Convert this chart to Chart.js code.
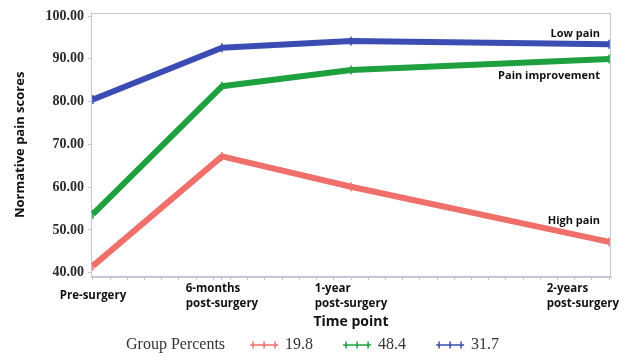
<!DOCTYPE html>
<html><head><meta charset="utf-8">
<script src="https://cdn.jsdelivr.net/npm/chart.js@4.4.1/dist/chart.umd.min.js"></script>
<style>html,body{margin:0;padding:0;background:#fff;} canvas{display:block;}</style>
</head><body>
<canvas id="c" width="631" height="357"></canvas>
<script>
// ---- data ----
const months = [0, 6, 12, 24];
const timeLabels = [['Pre-surgery'], ['6-months', 'post-surgery'], ['1-year', 'post-surgery'], ['2-years', 'post-surgery']];
const seriesNames = ['High pain', 'Pain improvement', 'Low pain'];
const groupPercents = ['19.8', '48.4', '31.7'];
const highPain = [41.6, 67.2, 60.1, 47.2];
const painImprovement = [53.7, 83.6, 87.4, 90.0];
const lowPain = [80.5, 92.6, 94.2, 93.4];
const yTicks = [40, 50, 60, 70, 80, 90, 100];
const xMinorStep = 0.8;

// ---- style ----
const colors = ['#ef6f6a', '#1fa03f', '#3b4db2'];
const frameColor = '#c3c8d4';
const seriesValues = [highPain, painImprovement, lowPain];

const datasets = seriesValues.map((vals, i) => ({
  label: groupPercents[i],
  data: months.map((m, j) => ({x: m, y: vals[j]})),
  borderColor: colors[i],
  backgroundColor: colors[i],
  borderWidth: 6,
  borderJoinStyle: 'round',
  tension: 0,
  pointStyle: 'line',
  rotation: 90,
  radius: 4.5,
  pointBorderWidth: 1.5,
  pointBorderColor: colors[i],
  clip: false
}));

const framePlugin = {
  id: 'frame',
  beforeDatasetsDraw(chart) {
    const {ctx, chartArea: a} = chart;
    ctx.save();
    ctx.strokeStyle = frameColor;
    ctx.lineWidth = 1;
    ctx.strokeRect(Math.round(a.left) + 0.5, Math.round(a.top) + 0.5, Math.round(a.right - a.left) - 1, Math.round(a.bottom - a.top) - 1);
    ctx.restore();
  }
};

const seriesLabelPlugin = {
  id: 'seriesLabels',
  afterDatasetsDraw(chart, args, opts) {
    const {ctx} = chart;
    ctx.save();
    ctx.font = 'bold 11px "Open Sans"';
    ctx.fillStyle = '#111';
    ctx.textAlign = 'right';
    ctx.textBaseline = 'middle';
    chart.data.datasets.forEach((ds, i) => {
      const meta = chart.getDatasetMeta(i);
      const p = meta.data[meta.data.length - 1];
      ctx.fillText(seriesNames[i], p.x - 9, p.y + opts.offsets[i]);
    });
    ctx.restore();
  }
};

const xLabelPlugin = {
  id: 'xLabels',
  afterDraw(chart) {
    const {ctx, chartArea: a, width} = chart;
    const xs = chart.scales.x;
    ctx.save();
    ctx.font = 'bold 11.5px "Open Sans"';
    ctx.fillStyle = '#111';
    ctx.textAlign = 'left';
    ctx.textBaseline = 'middle';
    const lh = 15;
    const centerY = a.bottom + 19;
    months.forEach((m, i) => {
      const lines = timeLabels[i];
      const px = xs.getPixelForValue(m);
      const w = Math.max(...lines.map(t => ctx.measureText(t).width));
      let left = px - w / 2;
      left = Math.max(4, Math.min(left, width - 12 - w));
      const top = centerY - (lines.length - 1) * lh / 2;
      lines.forEach((t, k) => ctx.fillText(t, left, top + k * lh));
    });
    ctx.restore();
  }
};

const legendPlugin = {
  id: 'customLegend',
  afterDraw(chart) {
    const {ctx} = chart;
    ctx.save();
    ctx.font = '16px "Liberation Serif"';
    ctx.fillStyle = '#333';
    ctx.textBaseline = 'middle';
    ctx.textAlign = 'left';
    const y = 345;
    let x = 126;
    const title = 'Group Percents';
    ctx.fillText(title, x, y);
    x += ctx.measureText(title).width + 25;
    chart.data.datasets.forEach((ds, i) => {
      const sw = 28;
      ctx.strokeStyle = colors[i];
      ctx.lineWidth = 1.5;
      ctx.beginPath();
      ctx.moveTo(x, y); ctx.lineTo(x + sw, y);
      [3, sw / 2, sw - 3].forEach(d => { ctx.moveTo(x + d, y - 3.5); ctx.lineTo(x + d, y + 3.5); });
      ctx.stroke();
      x += sw + 7;
      ctx.fillStyle = '#333';
      ctx.fillText(ds.label, x, y);
      x += ctx.measureText(ds.label).width + 30;
    });
    ctx.restore();
  }
};

new Chart(document.getElementById('c'), {
  type: 'line',
  data: {datasets},
  plugins: [framePlugin, seriesLabelPlugin, xLabelPlugin, legendPlugin],
  options: {
    responsive: false,
    animation: false,
    layout: {padding: {left: 0, right: 20, top: 12.7, bottom: 26.6}},
    plugins: {
      legend: {display: false},
      tooltip: {enabled: false},
      seriesLabels: {offsets: [-21, 17.4, -10]}
    },
    scales: {
      x: {
        type: 'linear', min: -0.09, max: 24.09,
        afterBuildTicks: s => {
          const t = [];
          for (let k = 0; k * xMinorStep <= 24.0001; k++) t.push(+(k * xMinorStep).toFixed(2));
          months.forEach(m => { if (!t.includes(m)) t.push(m); });
          t.sort((a, b) => a - b);
          s.ticks = t.map(v => ({value: v}));
        },
        ticks: {display: false},
        grid: {drawOnChartArea: false, drawTicks: true, tickLength: 3, color: frameColor},
        border: {color: frameColor, width: 1},
        title: {display: true, text: 'Time point', font: {family: 'Open Sans', weight: 'bold', size: 14}, color: '#111', padding: {top: 33.6, bottom: 0}}
      },
      y: {
        min: 39, max: 100.8,
        afterBuildTicks: s => { s.ticks = yTicks.map(v => ({value: v})); },
        afterFit: s => { s.width = 91; },
        ticks: {callback: v => Number(v).toFixed(2), font: {family: 'Liberation Serif', weight: 'bold', size: 14}, color: '#2a2a2a', padding: 4},
        grid: {drawOnChartArea: false, tickLength: 3, color: frameColor},
        border: {color: frameColor, width: 1},
        title: {display: true, text: 'Normative pain scores', font: {family: 'Open Sans', weight: 'bold', size: 13}, color: '#111', padding: {top: 12.2, bottom: 0}}
      }
    }
  }
});
</script>
</body></html>
